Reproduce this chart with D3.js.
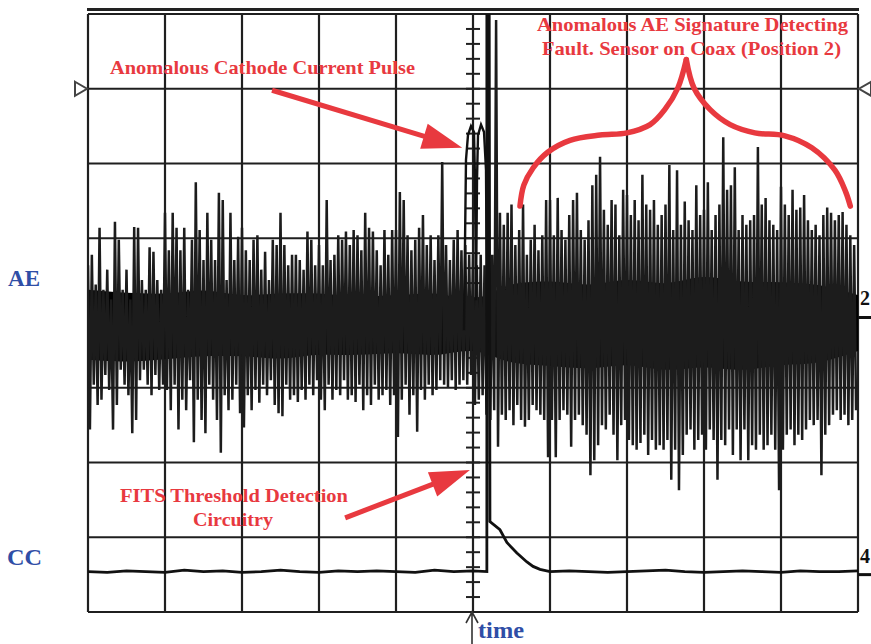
<!DOCTYPE html>
<html>
<head>
<meta charset="utf-8">
<script src="https://cdn.jsdelivr.net/npm/d3@7"></script>
<style>
  body { margin: 0; background: #fff; }
  svg { display: block; }
</style>
</head>
<body>
<div id="scope-div"></div>
<script>
// ---- data (time in divisions, amplitude in hundredths of a division) ----
const aeSampleStep = 0.05
const aeHigh = [
  80, 94, 54, 130, 47, 74, 34, 138, 114, 47, 74, 34, 131, 130, 60, 47, 104, 98, 60, 47,
  150, 100, 150, 130, 100, 130, 47, 114, 191, 127, 87, 150, 114, 87, 177, 167, 60, 150, 87, 118,
  130, 100, 87, 114, 120, 74, 98, 60, 114, 107, 150, 107, 80, 94, 94, 87, 74, 125, 114, 80,
  107, 80, 167, 87, 94, 120, 114, 125, 107, 127, 120, 100, 150, 130, 125, 100, 80, 127, 94, 127,
  127, 178, 167, 120, 100, 114, 130, 147, 107, 120, 87, 120, 218, 107, 87, 114, 127, 100, 107, 94,
  94, 80, 94, 80, 147, 94, 408, 150, 134, 150, 161, 107, 127, 161, 94, 114, 134, 100, 120, 167,
  167, 120, 170, 127, 114, 147, 167, 177, 127, 114, 140, 187, 201, 225, 154, 134, 167, 161, 120, 181,
  174, 147, 167, 140, 201, 161, 154, 167, 134, 147, 161, 214, 127, 207, 134, 165, 140, 127, 187, 147,
  154, 191, 127, 147, 161, 251, 181, 187, 211, 127, 147, 134, 140, 147, 238, 161, 170, 140, 134, 127,
  185, 161, 147, 181, 154, 157, 174, 140, 127, 134, 120, 147, 157, 150, 140, 147, 151, 134, 120, 107
]
const aeLow = [
  -140, -80, -107, -100, -67, -87, -140, -107, -60, -80, -94, -145, -127, -74, -60, -80, -94, -67, -87, -80,
  -87, -114, -80, -140, -100, -114, -74, -157, -100, -127, -145, -80, -100, -127, -171, -94, -114, -100, -80, -118,
  -137, -94, -114, -87, -104, -80, -94, -74, -107, -118, -122, -80, -100, -94, -103, -87, -100, -80, -94, -74,
  -100, -114, -80, -100, -87, -94, -74, -100, -94, -103, -80, -114, -94, -107, -80, -100, -94, -87, -107, -94,
  -150, -100, -80, -120, -94, -143, -87, -100, -80, -94, -87, -74, -80, -83, -74, -87, -80, -74, -80, -67,
  -107, -100, -94, -120, -127, -114, -163, -120, -127, -114, -134, -107, -127, -136, -127, -107, -114, -120, -127, -177,
  -127, -177, -127, -114, -120, -163, -127, -120, -134, -147, -201, -181, -161, -134, -140, -120, -147, -181, -134, -127,
  -154, -161, -167, -158, -147, -174, -154, -167, -161, -167, -154, -207, -167, -221, -174, -147, -140, -167, -154, -147,
  -167, -140, -154, -207, -154, -161, -140, -174, -140, -181, -140, -181, -161, -167, -147, -167, -161, -147, -167, -221,
  -167, -147, -140, -161, -147, -154, -140, -127, -134, -127, -201, -147, -134, -120, -114, -127, -120, -134, -127, -114
]
const aeCoreTime = [0, 0.5, 1, 1.5, 2, 2.5, 3, 3.5, 4, 4.5, 5, 5.5, 6, 6.5, 7, 7.5, 8, 8.5, 9, 9.5, 10]
const aeCoreHigh = [47, 43, 42, 46, 40, 42, 42, 38, 40, 42, 35, 54, 58, 54, 60, 56, 64, 58, 57, 53, 40]
const aeCoreLow = [-47, -49, -46, -42, -42, -45, -40, -40, -38, -40, -35, -50, -55, -58, -54, -60, -57, -60, -54, -50, -35]

// cathode current pulse riding on the AE trace
const pulseTime = [4.883, 4.909, 4.935, 4.974, 5.013, 5.026, 5.039, 5.052, 5.065, 5.104, 5.143, 5.169, 5.182]
const pulseValue = [-7, 221, 254, 266, 258, 194, 33, 194, 254, 268, 258, 207, 7]

// CC channel
const ccTime = [
  0, 0.25, 0.5, 0.75, 1, 1.25, 1.5, 1.75, 2, 2.25, 2.5, 2.75, 3, 3.25, 3.5, 3.75, 4, 4.25, 4.5, 4.75, 5,
  5.18, 5.18, 5.21, 5.22, 5.35, 5.44, 5.57, 5.7, 5.78, 5.87, 6,
  6.25, 6.5, 6.75, 7, 7.25, 7.5, 7.75, 8, 8.25, 8.5, 8.75, 9, 9.25, 9.5, 9.75, 10
]
const ccValue = [
  0, -1, 1, 0, -1, 2, 0, 1, -1, 0, 2, 0, -1, 1, 0, 1, 0, -1, 2, 0, 1,
  0, 800, 800, 67, 56, 39, 25, 13, 7, 3, 0,
  1, 0, -1, 0, 1, 2, 0, -1, 0, 1, 0, -1, 1, 0, 0, 1
]

const aeOffset = -0.16   // divisions
const ccOffset = -3.46


class Scope{
    constructor(){
        //**********************************************************************
        //                           CONSTANTS
        //**********************************************************************
        this.WIDTH = 871
        this.HEIGHT = 644
        this.LEFT = 88
        this.RIGHT = 858
        this.TOP = 14
        this.BOTTOM = 612
        this.RED = "#e8393f"
        this.BLUE = "#2f4ea6"
        this.FONT = "'Liberation Serif', 'Times New Roman', serif"

        this.svg = d3.select("#scope-div").append("svg")
            .attr("width", this.WIDTH)
            .attr("height", this.HEIGHT)

        this.x = d3.scaleLinear().domain([0, 10]).range([this.LEFT, this.RIGHT])
        this.y = d3.scaleLinear().domain([-4, 4]).range([this.BOTTOM, this.TOP])

        this.svg.append("clipPath").attr("id", "screen")
            .append("rect")
            .attr("x", this.LEFT).attr("y", this.TOP)
            .attr("width", this.RIGHT - this.LEFT).attr("height", this.BOTTOM - this.TOP)

        this.drawGrid()
        this.drawTraces()
        this.drawMarkers()
        this.drawNotes()
    }

    drawGrid(){
        const that = this
        let g = this.svg.append("g")

        // double top bezel line
        g.append("line")
            .attr("x1", this.LEFT - 1).attr("x2", this.RIGHT + 1)
            .attr("y1", 9.5).attr("y2", 9.5)
            .attr("stroke", "#222").attr("stroke-width", 3)

        g.selectAll(".vgrid").data(d3.range(0, 11)).enter().append("line")
            .attr("x1", d => that.x(d)).attr("x2", d => that.x(d))
            .attr("y1", this.TOP).attr("y2", this.BOTTOM)
            .attr("stroke", "#1f1f1f").attr("stroke-width", 2.2)

        g.selectAll(".hgrid").data(d3.range(-4, 5)).enter().append("line")
            .attr("x1", this.LEFT).attr("x2", this.RIGHT)
            .attr("y1", d => that.y(d)).attr("y2", d => that.y(d))
            .attr("stroke", "#1f1f1f").attr("stroke-width", 2.2)

        // minor ticks on the centre axis
        g.selectAll(".ctick").data(d3.range(-4, 4.01, 0.2)).enter().append("line")
            .attr("x1", this.x(5) - 7).attr("x2", this.x(5) + 7)
            .attr("y1", d => that.y(d)).attr("y2", d => that.y(d))
            .attr("stroke", "#1f1f1f").attr("stroke-width", 2)
    }

    drawTraces(){
        const that = this
        let g = this.svg.append("g").attr("clip-path", "url(#screen)")

        // dense centre band of the AE signal
        let core = aeCoreTime.map((t, i) => ({t: t, hi: aeCoreHigh[i], lo: aeCoreLow[i]}))
        g.append("path")
            .datum(core)
            .attr("fill", "#000")
            .attr("d", d3.area()
                .x(d => that.x(d.t))
                .y0(d => that.y(aeOffset + d.lo / 100))
                .y1(d => that.y(aeOffset + d.hi / 100))
                .curve(d3.curveCatmullRom))

        // AE zigzag: every sample swings from its high to its low
        let zig = []
        aeHigh.forEach(function(h, i){
            zig.push([i * aeSampleStep, h])
            zig.push([i * aeSampleStep + aeSampleStep / 2, aeLow[i]])
        })
        const line = d3.line()
            .x(d => that.x(d[0]))
            .y(d => that.y(aeOffset + d[1] / 100))
        g.append("path")
            .datum(zig)
            .attr("fill", "none")
            .attr("stroke", "#1c1c1c")
            .attr("stroke-width", 2.5)
            .attr("stroke-linejoin", "bevel")
            .attr("d", line)

        g.append("path")
            .datum(pulseTime.map((t, i) => [t, pulseValue[i]]))
            .attr("fill", "none")
            .attr("stroke", "#111")
            .attr("stroke-width", 2.4)
            .attr("d", line)

        // CC trace
        g.append("path")
            .datum(ccTime.map((t, i) => [t, ccValue[i]]))
            .attr("fill", "none")
            .attr("stroke", "#111")
            .attr("stroke-width", 2.8)
            .attr("d", d3.line()
                .x(d => that.x(d[0]))
                .y(d => that.y(ccOffset + d[1] / 100)))
    }

    drawMarkers(){
        let g = this.svg.append("g")
        let trigY = this.y(3)

        // trigger level triangles
        g.append("path")
            .attr("d", `M${this.LEFT - 13},${trigY - 7} L${this.LEFT - 1},${trigY} L${this.LEFT - 13},${trigY + 7} Z`)
            .attr("fill", "#fff").attr("stroke", "#444").attr("stroke-width", 2)
        g.append("path")
            .attr("d", `M${this.RIGHT + 13},${trigY - 7} L${this.RIGHT + 1},${trigY} L${this.RIGHT + 13},${trigY + 7} Z`)
            .attr("fill", "#fff").attr("stroke", "#444").attr("stroke-width", 2)

        // channel ground markers on the right
        let ch = [{lab: "2", v: aeOffset + 0.1}, {lab: "4", v: ccOffset - 0.04}]
        for (let c of ch){
            let yy = this.y(c.v)
            g.append("line")
                .attr("x1", this.RIGHT).attr("x2", this.WIDTH)
                .attr("y1", yy).attr("y2", yy)
                .attr("stroke", "#111").attr("stroke-width", 3)
            g.append("text")
                .attr("x", this.RIGHT + 2).attr("y", yy - 12)
                .attr("font-family", this.FONT).attr("font-weight", "bold")
                .attr("font-size", 20).attr("fill", "#111")
                .text(c.lab)
        }

        // trigger position arrow at the bottom
        let tx = this.x(5) - 1
        g.append("path")
            .attr("d", `M${tx},${this.BOTTOM} L${tx},${this.HEIGHT} M${tx - 6},${this.BOTTOM + 11} L${tx},${this.BOTTOM} L${tx + 6},${this.BOTTOM + 11}`)
            .attr("fill", "none").attr("stroke", "#333").attr("stroke-width", 1.6)
    }

    arrow(g, from, tip){
        const x0 = this.x(from[0]), y0 = this.y(from[1])
        const x1 = this.x(tip[0]), y1 = this.y(tip[1])
        const len = Math.hypot(x1 - x0, y1 - y0)
        const ux = (x1 - x0) / len, uy = (y1 - y0) / len
        const bx = x1 - 40 * ux, by = y1 - 40 * uy
        g.append("line")
            .attr("x1", x0).attr("y1", y0).attr("x2", bx + 4 * ux).attr("y2", by + 4 * uy)
            .attr("stroke", this.RED).attr("stroke-width", 5)
        g.append("path")
            .attr("d", `M${x1},${y1} L${bx - 13 * uy},${by + 13 * ux} L${bx + 13 * uy},${by - 13 * ux} Z`)
            .attr("fill", this.RED)
    }

    drawNotes(){
        const that = this
        let g = this.svg.append("g")

        let redText = [
            {s: "Anomalous Cathode Current Pulse", x: 110, y: 74, w: 305},
            {s: "Anomalous AE Signature Detecting", x: 537, y: 31, w: 311},
            {s: "Fault. Sensor on Coax (Position 2)", x: 542, y: 55, w: 299},
            {s: "FITS Threshold Detection", x: 120, y: 502, w: 228},
            {s: "Circuitry", x: 193, y: 526, w: 80}
        ]
        g.selectAll(".note").data(redText).enter().append("text")
            .attr("x", d => d.x).attr("y", d => d.y)
            .attr("textLength", d => d.w).attr("lengthAdjust", "spacingAndGlyphs")
            .attr("font-family", this.FONT).attr("font-weight", "bold")
            .attr("font-size", 19).attr("fill", this.RED)
            .text(d => d.s)

        let blueText = [
            {s: "AE", x: 8, y: 286, w: 32},
            {s: "CC", x: 7, y: 565, w: 35},
            {s: "time", x: 478, y: 638, w: 46}
        ]
        g.selectAll(".lab").data(blueText).enter().append("text")
            .attr("x", d => d.x).attr("y", d => d.y)
            .attr("textLength", d => d.w).attr("lengthAdjust", "spacingAndGlyphs")
            .attr("font-family", this.FONT).attr("font-weight", "bold")
            .attr("font-size", 23).attr("fill", this.BLUE)
            .text(d => d.s)

        this.arrow(g, [2.39, 2.98], [4.86, 2.21])
        this.arrow(g, [3.34, -2.74], [4.96, -2.10])

        // curly brace over the post-trigger AE noise
        let braceLeft = [[5.61, 1.43], [5.66, 1.71], [5.78, 1.94], [5.97, 2.15], [6.26, 2.31], [6.65, 2.38],
                         [7.0, 2.41], [7.3, 2.52], [7.49, 2.72], [7.66, 3.01], [7.77, 3.39]]
        let braceRight = [[7.77, 3.39], [7.87, 3.01], [8.08, 2.72], [8.34, 2.52], [8.66, 2.41], [9.05, 2.37],
                          [9.4, 2.21], [9.7, 1.91], [9.84, 1.62], [9.9, 1.43]]
        const braceLine = d3.line()
            .x(d => that.x(d[0])).y(d => that.y(d[1]))
            .curve(d3.curveCatmullRom)
        for (let half of [braceLeft, braceRight]){
            g.append("path").datum(half)
                .attr("fill", "none").attr("stroke", this.RED)
                .attr("stroke-width", 5.5).attr("stroke-linecap", "round")
                .attr("d", braceLine)
        }
    }
}

new Scope()
</script>
</body>
</html>
